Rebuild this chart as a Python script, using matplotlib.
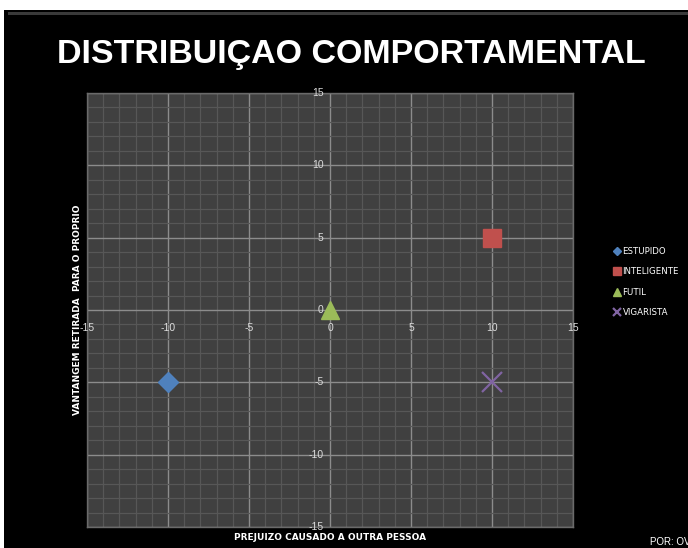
import matplotlib.pyplot as plt
from matplotlib.patches import Rectangle
from matplotlib.ticker import MultipleLocator

# data
labels = ['ESTUPIDO', 'INTELIGENTE', 'FUTIL', 'VIGARISTA']
x_vals = [-10, 10, 0, 10]
y_vals = [-5, 5, 0, -5]
colors = ['#4f81bd', '#c0504d', '#9bbb59', '#8064a2']
markers = ['D', 's', '^', 'x']
sizes = [10, 13, 13, 14]

fig = plt.figure(figsize=(6.88, 5.48), dpi=100, facecolor='black')

# white frame at top/left like the slide screenshot
fig.patches.append(Rectangle((0, 1 - 10 / 548), 1, 10 / 548, transform=fig.transFigure,
                             facecolor='white', edgecolor='none', zorder=0))
fig.patches.append(Rectangle((0, 0), 4 / 688, 1, transform=fig.transFigure,
                             facecolor='white', edgecolor='none', zorder=0))
fig.patches.append(Rectangle((8 / 688, 1 - 15 / 548), 1, 3 / 548, transform=fig.transFigure,
                             facecolor='#3a3a3a', edgecolor='none', zorder=0))

ax = fig.add_axes([87 / 688, 21 / 548, 486 / 688, 434 / 548])
ax.set_facecolor('#404040')
ax.set_xlim(-15, 15)
ax.set_ylim(-15, 15)

ax.xaxis.set_major_locator(MultipleLocator(5))
ax.yaxis.set_major_locator(MultipleLocator(5))
ax.xaxis.set_minor_locator(MultipleLocator(1))
ax.yaxis.set_minor_locator(MultipleLocator(1))
ax.grid(which='minor', color='#575757', linewidth=0.9)
ax.grid(which='major', color='#8c8c8c', linewidth=1.0)
ax.set_axisbelow(True)

for s in ax.spines.values():
    s.set_color('#6a6a6a')
    s.set_linewidth(1)
ax.tick_params(which='both', length=0, labelbottom=False, labelleft=False)

# tick labels along the centre axes
tick_kw = dict(color='#dddddd', fontsize=7.5, family='Liberation Sans')
for v in range(-15, 20, 5):
    ax.text(v, -1.25, str(v), ha='center', va='center', **tick_kw)
    if v != -15:
        ax.text(-0.4, v, str(v), ha='right', va='center', **tick_kw)
ax.text(-0.4, -15, '-15', ha='right', va='center', **tick_kw)

for xv, yv, c, m, s, lab in zip(x_vals, y_vals, colors, markers, sizes, labels):
    if m == 'x':
        ax.plot(xv, yv, marker=m, color=c, markersize=s, markeredgewidth=1.6,
                linestyle='none', label=lab, zorder=3)
    else:
        ax.plot(xv, yv, marker=m, color=c, markersize=s, markeredgecolor=c,
                linestyle='none', label=lab, zorder=3)

leg = ax.legend(loc='center left', bbox_to_anchor=(1.07, 0.5 + 28 / 434), frameon=False,
                handlelength=0.6, handletextpad=0.3, labelspacing=1.3, markerscale=0.45,
                prop={'family': 'DejaVu Sans', 'size': 6.2})
for t in leg.get_texts():
    t.set_color('white')

fig.text(330 / 688, 1 - 537 / 548, 'PREJUIZO CAUSADO A OUTRA PESSOA', color='white',
         fontsize=6.5, fontweight='bold', ha='center', va='center')
fig.text(78 / 688, 1 - 310 / 548, 'VANTANGEM RETIRADA  PARA O PROPRIO', color='white',
         fontsize=6.5, fontweight='bold', ha='center', va='center', rotation=90)

fig.text(351 / 688, 1 - 55 / 548, 'DISTRIBUIÇAO COMPORTAMENTAL', color='white',
         fontsize=24.5, fontweight='bold', ha='center', va='center', family='Liberation Sans')
fig.text(650 / 688, 1 - 542 / 548, 'POR: OV', color='white', fontsize=7,
         ha='left', va='center', family='Liberation Sans')

fig.savefig('out.png', dpi=100, facecolor='black')
